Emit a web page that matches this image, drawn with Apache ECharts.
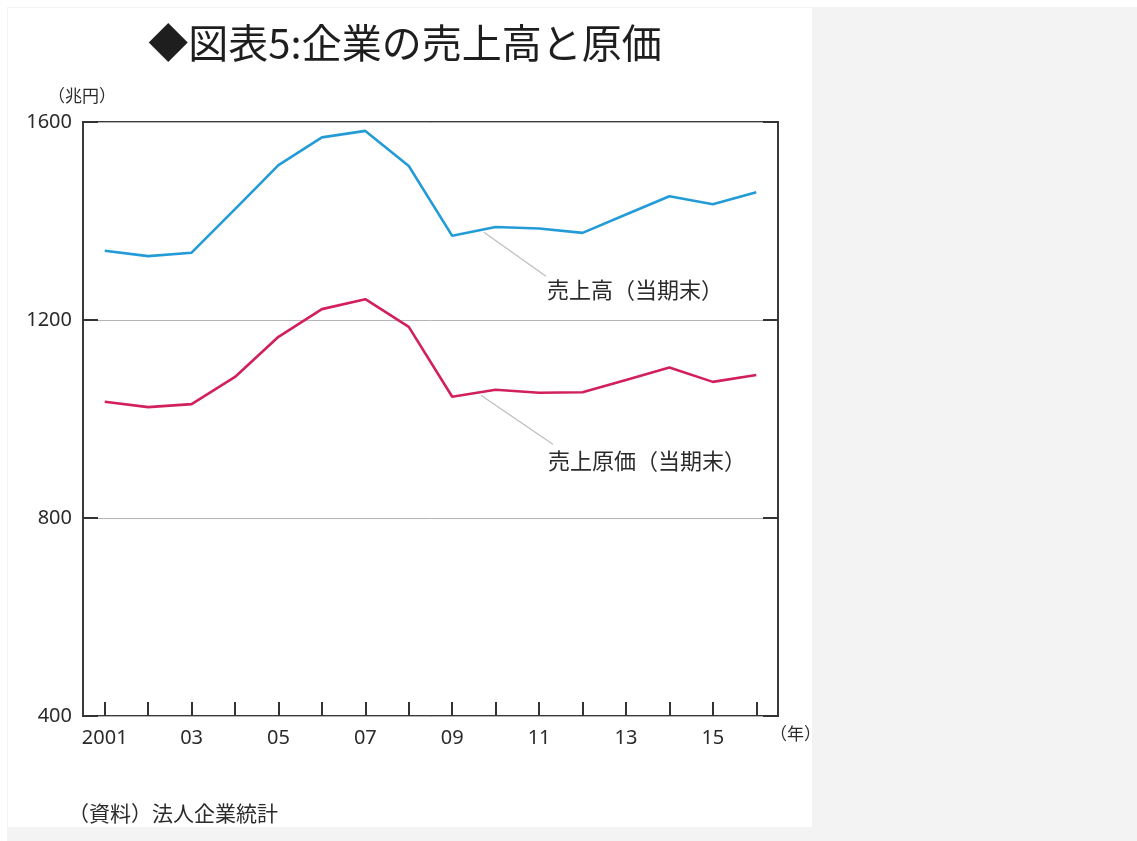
<!DOCTYPE html>
<html>
<head>
<meta charset="utf-8">
<script src="https://cdn.jsdelivr.net/npm/echarts@6/dist/echarts.min.js"></script>
<style>
  html, body { margin: 0; padding: 0; background: #ffffff; }
  #back { position: absolute; left: 7px; top: 7px; width: 1130px; height: 834px; background: #f3f3f3; }
  #panel { position: absolute; left: 8px; top: 8px; width: 804px; height: 819px; background: #ffffff; }
  #chart { position: absolute; left: 0; top: 0; width: 1137px; height: 841px; }
</style>
</head>
<body>
<div id="back"></div>
<div id="panel"></div>
<div id="chart"></div>
<script>
// 年（2001年から2016年）
const years = ['2001', '02', '03', '04', '05', '06', '07', '08', '09', '10', '11', '12', '13', '14', '15', '16'];
// 売上高（当期末）, 兆円
const sales = [1340, 1329, 1336, 1424, 1513, 1569, 1582, 1511, 1370, 1388, 1385, 1376, 1413, 1450, 1434, 1458];
// 売上原価（当期末）, 兆円
const cost = [1035, 1024, 1030, 1085, 1166, 1222, 1242, 1186, 1045, 1059, 1053, 1054, 1079, 1104, 1075, 1089];
// 縦軸の範囲
const yMin = 400;
const yMax = 1600;
const yStep = 400;

const JP = '"Noto Sans CJK JP", "Noto Sans", sans-serif';
const NUM = '"Noto Sans", "Open Sans", sans-serif';
const BLUE = '#239bd7';
const RED = '#d2205c';
const INK = '#2b2b2b';

const chart = echarts.init(document.getElementById('chart'), null, { renderer: 'canvas' });

const yAxisBase = {
  type: 'value', min: yMin, max: yMax, interval: yStep,
  axisLine: { show: false },
  axisTick: { show: true, inside: true, length: 15, lineStyle: { color: '#333', width: 2 } },
  splitLine: { show: false }
};

chart.setOption({
  backgroundColor: 'transparent',
  animation: false,
  grid: {
    left: 83, right: 359, top: 122, bottom: 125,
    show: true, borderColor: '#3a3a3a', borderWidth: 2, backgroundColor: 'transparent'
  },
  xAxis: {
    type: 'category', data: years, boundaryGap: true,
    axisLine: { show: false },
    axisTick: { show: true, inside: true, alignWithLabel: true, interval: 0, length: 14,
      lineStyle: { color: '#333', width: 2 } },
    axisLabel: { interval: 1, margin: 12, color: INK, fontFamily: NUM, fontSize: 20 },
    splitLine: { show: false }
  },
  yAxis: [
    Object.assign({}, yAxisBase, {
      position: 'left',
      axisLabel: { margin: 11, color: INK, fontFamily: NUM, fontSize: 20,
        formatter: function (v) { return String(v); } },
      splitLine: { show: true, lineStyle: { color: '#b4b4b4', width: 1 } }
    }),
    Object.assign({}, yAxisBase, {
      position: 'right',
      axisLabel: { show: false }
    })
  ],
  series: [
    {
      name: '売上高（当期末）', type: 'line', data: sales,
      symbol: 'none', lineStyle: { color: BLUE, width: 2.6 }, z: 3
    },
    {
      name: '売上原価（当期末）', type: 'line', data: cost,
      symbol: 'none', lineStyle: { color: RED, width: 2.6 }, z: 3
    }
  ]
});

// 引き出し線の起点は2009年と2010年の間の線上
function pointOn(values, i, t) {
  const a = chart.convertToPixel({ xAxisIndex: 0, yAxisIndex: 0 }, [i, values[i]]);
  const b = chart.convertToPixel({ xAxisIndex: 0, yAxisIndex: 0 }, [i + 1, values[i + 1]]);
  return [a[0] + (b[0] - a[0]) * t, a[1] + (b[1] - a[1]) * t];
}

const pS = pointOn(sales, 8, 0.73);
const pC = pointOn(cost, 8, 0.66);

function callout(p, dx, dy, text, tx, ty) {
  return [
    {
      type: 'line', z: 5,
      shape: { x1: p[0], y1: p[1] + 3, x2: p[0] + dx, y2: p[1] + dy },
      style: { stroke: '#bdbdbd', lineWidth: 1.2 }
    },
    {
      type: 'text', z: 5,
      x: p[0] + dx + tx, y: p[1] + dy + ty,
      style: { text: text, fill: INK, font: '22px ' + JP, textAlign: 'left', textVerticalAlign: 'middle' }
    }
  ];
}

chart.setOption({
  graphic: [
    {
      type: 'text', x: 405, y: 43,
      style: { text: '◆図表5:企業の売上高と原価', fill: '#1e1e1e', font: '40px ' + JP,
        textAlign: 'center', textVerticalAlign: 'middle' }
    },
    {
      type: 'text', x: 82, y: 96,
      style: { text: '（兆円）', fill: INK, font: '17px ' + JP, textAlign: 'center', textVerticalAlign: 'middle' }
    },
    {
      type: 'text', x: 770, y: 734,
      style: { text: '（年）', fill: INK, font: '17px ' + JP, textAlign: 'left', textVerticalAlign: 'middle' }
    },
    {
      type: 'text', x: 68, y: 813,
      style: { text: '（資料）法人企業統計', fill: INK, font: '21px ' + JP, textAlign: 'left', textVerticalAlign: 'middle' }
    }
  ].concat(
    callout(pS, 62, 47, '売上高（当期末）', 1, 13),
    callout(pC, 72, 52, '売上原価（当期末）', -5, 16)
  )
});
</script>
</body>
</html>
